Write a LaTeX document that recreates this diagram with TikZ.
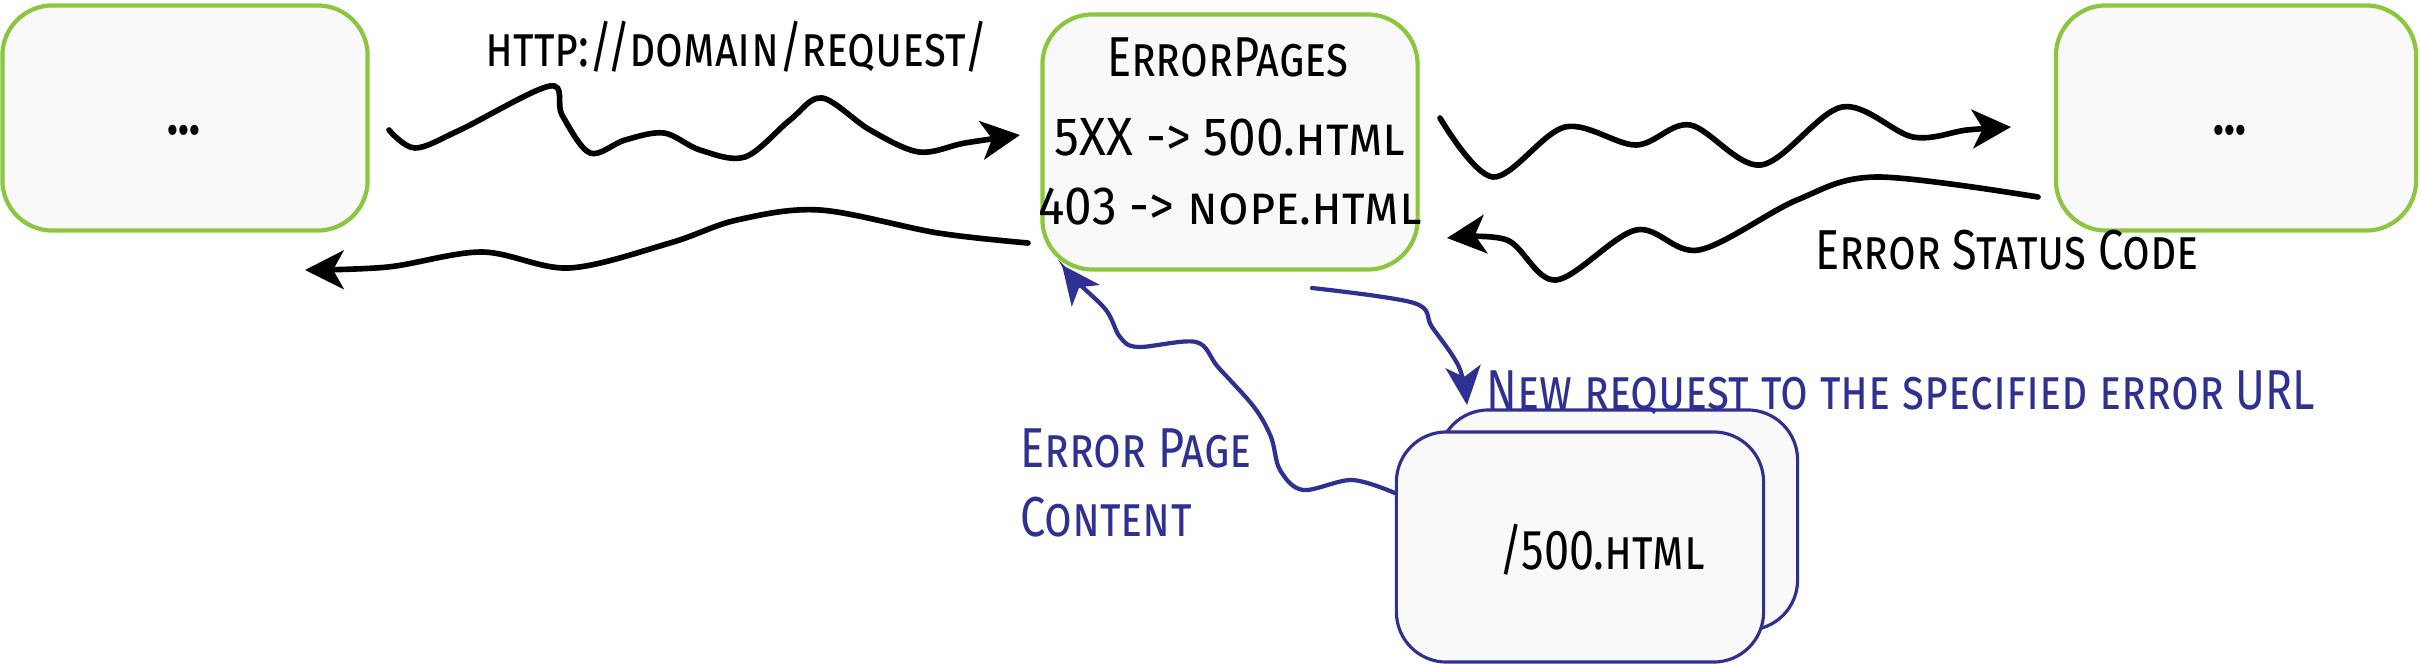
\documentclass[tikz,border=0pt]{standalone}
\usepackage{fontspec}
\setmainfont{Fira Sans}[FakeStretch=0.8]
\newfontfamily\widerfont{Fira Sans}[FakeStretch=0.92]
\usetikzlibrary{arrows.meta}
\definecolor{grn}{HTML}{8CC63F}
\definecolor{blu}{HTML}{2E3192}
\definecolor{boxfill}{HTML}{F9F9F9}
\begin{document}
\begin{tikzpicture}[x=0.01cm,y=-0.01cm,
  gbox/.style={draw=grn,line width=1.2pt,fill=boxfill,rounded corners=0.5cm,inner sep=0pt},
  bbox/.style={draw=blu,line width=0.9pt,fill=boxfill,rounded corners=0.5cm,inner sep=0pt},
  lbl/.style={font=\fontsize{16}{19}\selectfont\scshape,inner sep=0pt},
  wlbl/.style={font=\widerfont\fontsize{15.3}{18}\selectfont\scshape,inner sep=0pt},
  karr/.style={line width=1.6pt,line cap=round,-{Stealth[length=11pt,width=11pt,inset=3pt]}},
  barr/.style={draw=blu,line width=1.2pt,line cap=round,-{Stealth[length=11pt,width=10pt,inset=3pt]},blu},
]
\useasboundingbox (0,0) rectangle (2420,664);
% boxes
\node[gbox,minimum width=3.65cm,minimum height=2.25cm] (left) at (185,118) {};
\node[lbl] (ldots) at (184,130) {\textbf{...}};
\node[gbox,minimum width=3.75cm,minimum height=2.55cm] (mid) at (1230,142) {};
\node[lbl] (t1) at (1228,57) {ErrorPages};
\node[wlbl] (t2) at (1230,137) {5XX -> 500.html};
\node[wlbl] (t3) at (1230,207) {403 -> nope.html};
\node[gbox,minimum width=3.6cm,minimum height=2.25cm] (right) at (2236,118) {};
\node[lbl] (rdots) at (2230,130) {\textbf{...}};
\node[bbox,minimum width=3.59cm,minimum height=2.2cm] (back) at (1618,520) {};
\node[bbox,minimum width=3.67cm,minimum height=2.3cm] (front) at (1580,547) {};
\node[lbl] (page) at (1602,550) {/500.html};
% labels
\node[lbl] (url) at (737,47) {http://domain/request/};
\node[lbl] (esc) at (2007,250) {Error Status Code};
\node[lbl,text=blu,anchor=west] (newreq) at (1486,393) {New request to the specified error URL};
\node[lbl,text=blu,anchor=west] (epc1) at (1020,448) {Error Page};
\node[lbl,text=blu,anchor=west] (epc2) at (1020,517) {Content};
% connector end points
\coordinate (a1s) at (389,130); \coordinate (a1e) at (1020,135);
\coordinate (a2s) at (1028,243); \coordinate (a2e) at (305,270);
\coordinate (a3s) at (1440,118); \coordinate (a3e) at (2011,127);
\coordinate (a4s) at (2038,197); \coordinate (a4e) at (1447,238);
\coordinate (a5s) at (1312,288); \coordinate (a5e) at (1467,405);
\coordinate (a6s) at (front.west |- 0,493); \coordinate (a6e) at (1062,265);
% connectors
\draw[karr] plot[smooth,tension=0.55] coordinates {(a1s) (415,148) (460,130) (550,86) (562,115) (590,153) (625,140) (664,133) (700,150) (745,157) (790,120) (822,98) (870,130) (919,152) (965,143) (a1e)};
\draw[karr] plot[smooth,tension=0.55] coordinates {(a2s) (938,233) (820,210) (737,220) (670,243) (569,268) (482,252) (388,267) (a2e)};
\draw[karr] plot[smooth,tension=0.55] coordinates {(a3s) (1493,177) (1565,127) (1636,145) (1690,125) (1761,165) (1842,107) (1913,137) (1967,130) (a3e)};
\draw[karr] plot[smooth,tension=0.55] coordinates {(a4s) (1877,177) (1797,200) (1699,250) (1636,230) (1556,280) (1507,240) (a4e)};
\draw[barr] plot[smooth,tension=0.55] coordinates {(a5s) (1414,303) (1432,327) (1459,367) (a5e)};
\draw[barr] plot[smooth,tension=0.55] coordinates {(a6s) (1352,480) (1303,490) (1280,470) (1271,437) (1254,407) (1218,367) (1196,342) (1138,347) (1120,337) (1106,310) (1075,280) (a6e)};
\end{tikzpicture}
\end{document}
